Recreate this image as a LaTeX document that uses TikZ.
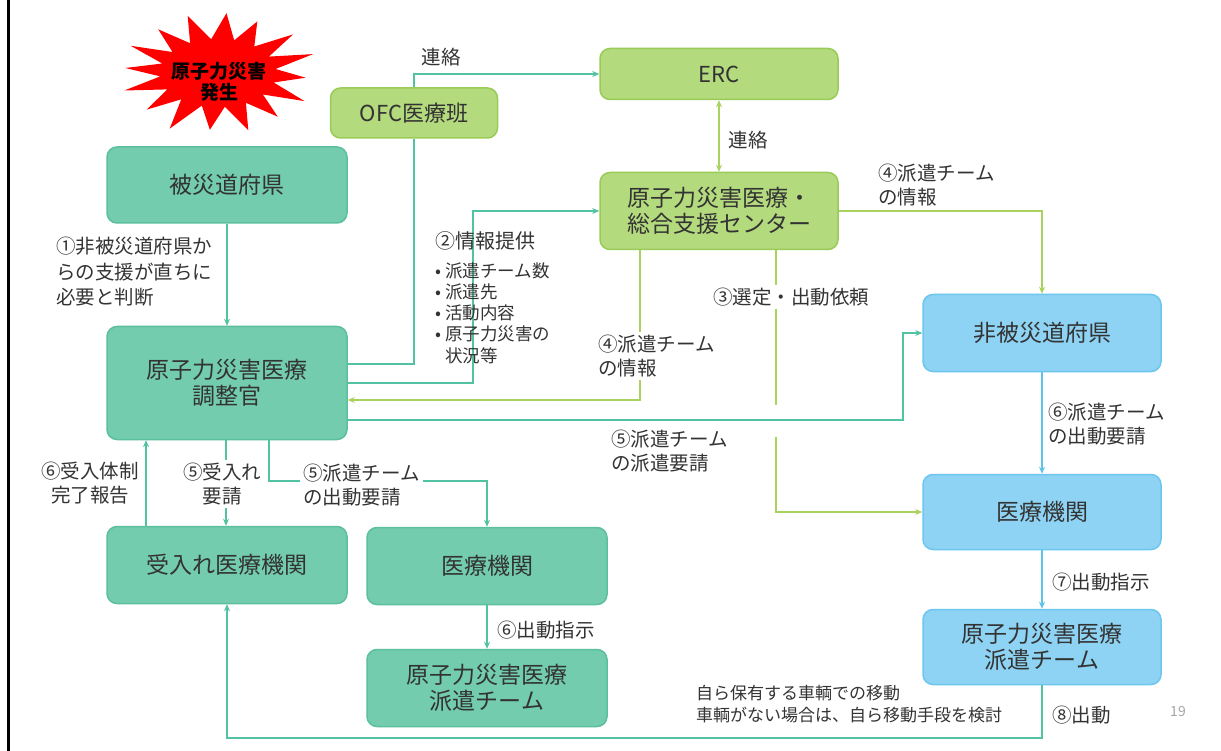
\documentclass[tikz,border=0pt]{standalone}
\usepackage{fontspec}
\setmainfont{Noto Sans CJK JP}
\usetikzlibrary{arrows.meta,calc}
\definecolor{tealF}{HTML}{72CCAD}
\definecolor{tealD}{HTML}{5CBF9E}
\definecolor{greenF}{HTML}{B4DA7E}
\definecolor{greenD}{HTML}{9ACB56}
\definecolor{blueF}{HTML}{8ED3F3}
\definecolor{blueD}{HTML}{6CC6EE}
\definecolor{txt}{HTML}{333333}
\definecolor{tealL}{HTML}{52C3A2}
\definecolor{greenL}{HTML}{AAD25E}
\definecolor{blueL}{HTML}{5EC3EA}
\newcommand\fs[2]{\fontsize{#1}{#2}\selectfont}
\begin{document}
\begin{tikzpicture}[x=1pt,y=-1pt,
  box/.style={rounded corners=10pt, minimum width=240pt, line width=1.5pt, text=txt, align=center, font=\fs{23}{26}, inner sep=0pt},
  tbox/.style={box, fill=tealF, draw=tealD},
  gbox/.style={box, fill=greenF, draw=greenD},
  bbox/.style={box, fill=blueF, draw=blueD},
  lbl/.style={text=txt, font=\fs{19.5}{24}, align=left, inner sep=1pt},
  wlbl/.style={lbl, fill=white, inner sep=3pt},
  arr/.style={-{Stealth[length=7pt,width=6pt]}},
  darr/.style={{Stealth[length=7pt,width=6pt]}-{Stealth[length=7pt,width=6pt]}},
  tl/.style={draw=tealL, line width=1.6pt},
  gl/.style={draw=greenL, line width=1.6pt},
  bl/.style={draw=blueL, line width=1.6pt}
]
\useasboundingbox (0,0) rectangle (1221,751);
\fill[white] (0,0) rectangle (1221,751);
\draw[line width=3pt] (8,0) -- (8,751);

% starburst
\fill[red] (226.5,13.2) -- (234.2,40.4) -- (257.3,21.4) -- (254.3,46.5) -- (293.1,34.4) -- (268.9,56.6)
  -- (313.1,54.1) -- (275.6,69.0) -- (305.6,77.7) -- (273.7,82.5) -- (304.5,101.1) -- (262.9,94.5)
  -- (277.8,116.7) -- (245.9,102.8) -- (248.3,130.1) -- (224.8,106.8) -- (209.9,129.8) -- (201.8,105.6)
  -- (169.7,128.6) -- (181.3,99.3) -- (146.8,109.6) -- (167.2,89.4) -- (124.3,90.5) -- (160.3,76.4)
  -- (125.3,68.0) -- (162.3,63.5) -- (130.7,45.8) -- (172.5,52.0) -- (158.2,29.3) -- (190.1,43.2)
  -- (187.7,15.9) -- (211.2,39.2) -- cycle;
\node[font=\fs{19}{21}\bfseries, align=center, inner sep=0pt] (star) at (219,82) {原子力災害\\発生};

% boxes
\node[gbox, minimum width=167pt, minimum height=50pt, font=\fs{22}{26}] (ofc) at (414,113) {OFC医療班};
\node[gbox, minimum width=238pt, minimum height=51pt, font=\fs{22}{26}] (erc) at (719,74) {ERC};
\node[gbox, minimum width=238pt, minimum height=77pt] (cen) at (719,211) {原子力災害医療・\\総合支援センター};
\node[tbox, minimum height=76pt] (hisai) at (227,185) {被災道府県};
\node[tbox, minimum height=113pt] (chosei) at (227,383) {原子力災害医療\\調整官};
\node[tbox, minimum height=77pt] (ukeire) at (227,565) {受入れ医療機関};
\node[tbox, minimum height=77pt] (iryoA) at (487,566) {医療機関};
\node[tbox, minimum height=77pt] (hakenA) at (487,688) {原子力災害医療\\派遣チーム};
\node[bbox, minimum width=238pt, minimum height=77pt] (hihisai) at (1042,333) {非被災道府県};
\node[bbox, minimum width=238pt, minimum height=75pt] (iryoB) at (1042,512) {医療機関};
\node[bbox, minimum width=238pt, minimum height=75pt] (hakenB) at (1042,647) {原子力災害医療\\派遣チーム};

% connectors
\draw[tl,arr] (ofc.north) |- (erc.west);
\node[lbl] (l1) at (441,57) {連絡};
\draw[gl,darr] (erc.south) -- (cen.north);
\node[lbl] (l2) at (748,140) {連絡};
\draw[gl,arr] (cen.east) -| (hihisai.north);
\node[lbl, anchor=west] (l3) at (877,185) {④派遣チーム\\の情報};
\draw[tl,arr] (hisai.south) -- (chosei.north);
\node[lbl, anchor=west, font=\fs{19.5}{25.5}] (l4) at (55,272) {①非被災道府県か\\らの支援が直ちに\\必要と判断};
\draw[tl] ([yshift=19pt]chosei.east) -| (ofc.south);
\draw[tl,arr] (chosei.east) -- ++(125,0) |- (cen.west);
\node[lbl, anchor=west, font=\fs{20}{24}] (l5) at (434,241) {②情報提供};
\node[lbl, anchor=west, font=\fs{17.5}{21.3}] (l6) at (434,313) {• 派遣チーム数\\• 派遣先\\• 活動内容\\• 原子力災害の\\\phantom{• }状況等};
\draw[gl,arr] ([xshift=-79pt]cen.south) |- ([yshift=-17pt]chosei.east);
\node[wlbl, anchor=west] (l7) at (595,356) {④派遣チーム\\の情報};
\draw[gl,arr] ([xshift=57pt]cen.south) |- (iryoB.west);
\node[wlbl, fill=white] (l8) at (791,297) {③選定・出動依頼};
\fill[white] (770,405) rectangle (782,437);
\draw[tl,arr] ([yshift=-37pt]chosei.east) -- ++(555,0) |- (hihisai.west);
\node[lbl, anchor=west] (l9) at (610,451) {⑤派遣チーム\\の派遣要請};
\draw[bl,arr] (hihisai.south) -- (iryoB.north);
\node[lbl, anchor=west] (l10) at (1047,424) {⑥派遣チーム\\の出動要請};
\draw[bl,arr] (iryoB.south) -- (hakenB.north);
\node[lbl, anchor=west] (l11) at (1051,582) {⑦出動指示};
\coordinate (bot) at (0,738);
\draw[tl,arr] (hakenB.south) |- (ukeire.south |- bot) -- (ukeire.south);
\node[lbl, anchor=west] (l12) at (1051,715) {⑧出動};
\node[lbl, anchor=west, font=\fs{17}{22}] (l13) at (695,704) {自ら保有する車輌での移動\\車輌がない場合は、自ら移動手段を検討};
\draw[tl,arr] ([xshift=-81pt]ukeire.north) -- ([xshift=-81pt]chosei.south);
\node[lbl, align=center] (l14) at (90,483) {⑥受入体制\\完了報告};
\draw[tl,arr] ([xshift=-1pt]chosei.south) -- ([xshift=-1pt]ukeire.north);
\node[wlbl, align=center] (l15) at (222,484) {⑤受入れ\\要請};
\draw[tl,arr] ([xshift=42pt]chosei.south) |- ([yshift=45.5pt]iryoA.north) -- (iryoA.north);
\node[wlbl, anchor=west] (l16) at (300,485) {⑤派遣チーム\\の出動要請\hspace{18pt}};
\draw[tl,arr] (iryoA.south) -- (hakenA.north);
\node[lbl, anchor=west] (l17) at (496,630) {⑥出動指示};
\node[text=black!35, font=\fs{14}{16}] (pg) at (1178,712) {19};
\end{tikzpicture}
\end{document}
